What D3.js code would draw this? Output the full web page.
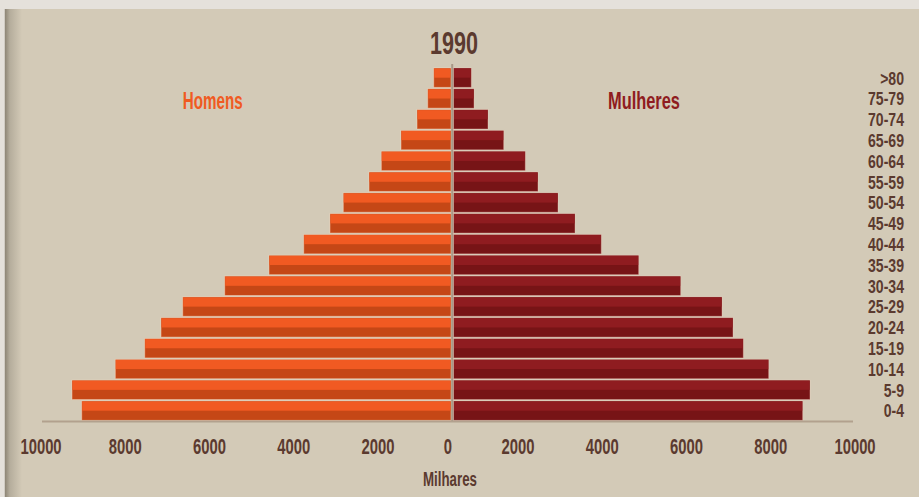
<!DOCTYPE html>
<html>
<head>
<meta charset="utf-8">
<script src="https://cdn.jsdelivr.net/npm/d3@7"></script>
<style>
  html, body { margin: 0; padding: 0; background: #d3cab7; }
  svg { display: block; }
  text { font-family: "Liberation Sans Narrow", "Liberation Sans", Arial, sans-serif; fill: #5b3a2f; font-weight: bold; }
</style>
</head>
<body>
<div id="chart"></div>
<script>
// faixas etarias, de cima para baixo
var ages = ['>80', '75-79', '70-74', '65-69', '60-64', '55-59', '50-54', '45-49', '40-44',
  '35-39', '30-34', '25-29', '20-24', '15-19', '10-14', '5-9', '0-4'];
// milhares
var homens = [415, 559, 815, 1199, 1671, 1966, 2583, 2902, 3532, 4365, 5427, 6434, 6954, 7345, 8050, 9089, 8856];
var mulheres = [427, 492, 827, 1204, 1722, 2026, 2506, 2914, 3544, 4441, 5448, 6439, 6703, 6950, 7559, 8549, 8374];
var tickValues = [-10000, -8000, -6000, -4000, -2000, 0, 2000, 4000, 6000, 8000, 10000];
var title = '1990';

var width = 919, height = 497;

var svg = d3.select('#chart').append('svg')
  .attr('width', width)
  .attr('height', height);

// fundo, faixa clara no topo e sombra na esquerda
var defs = svg.append('defs');
var shadow = defs.append('linearGradient').attr('id', 'shadow');
shadow.append('stop').attr('offset', '0%').attr('stop-color', '#e4e0da');
shadow.append('stop').attr('offset', '20%').attr('stop-color', '#e4e0da');
shadow.append('stop').attr('offset', '22%').attr('stop-color', '#8c8474');
shadow.append('stop').attr('offset', '45%').attr('stop-color', '#b5ad9c');
shadow.append('stop').attr('offset', '100%').attr('stop-color', '#d3cab7');

svg.append('rect').attr('width', width).attr('height', height).attr('fill', '#d3cab7');
svg.append('rect').attr('width', 22).attr('height', height).attr('fill', 'url(#shadow)');
svg.append('rect').attr('width', width).attr('height', 9).attr('fill', '#e5e1db');

// escalas
var xL = d3.scaleLinear().domain([0, 10000]).range([451, 34]);
var xR = d3.scaleLinear().domain([0, 10000]).range([453.5, 870.5]);
var y = d3.scaleBand().domain(ages).range([67.3, 421.1]).paddingInner(0.07).paddingOuter(0.035);
// posicao dos rotulos do eixo (espacamento do original)
var xTick = d3.scaleLinear().domain([-10000, -2000, 0, 2000, 10000]).range([41, 378, 448, 518, 855]);

var bw = y.bandwidth();

// texto condensado: ajusta largura pela medida real
function condensed(sel, size, refWidth, refText) {
  var probe = svg.append('text').style('font-size', size + 'px').text(refText);
  var s = refWidth / probe.node().getComputedTextLength();
  probe.remove();
  sel.style('font-size', size + 'px')
    .attr('transform', function() {
      var t = d3.select(this);
      return 'translate(' + t.attr('data-x') + ',' + t.attr('data-y') + ') scale(' + s + ',1)';
    });
  return sel;
}

var bars = svg.append('g');

// homens
var gh = bars.selectAll('g.h').data(homens).enter().append('g').attr('class', 'h');
gh.append('rect')
  .attr('x', d => xL(d))
  .attr('y', (d, i) => y(ages[i]))
  .attr('width', d => xL(0) - xL(d))
  .attr('height', bw)
  .attr('fill', '#c54716')
  .attr('stroke', 'rgba(255,225,200,0.45)')
  .attr('stroke-width', 1);
gh.append('rect')
  .attr('x', d => xL(d) + 0.5)
  .attr('y', (d, i) => y(ages[i]) + 0.5)
  .attr('width', d => xL(0) - xL(d) - 1)
  .attr('height', bw / 2 - 0.5)
  .attr('fill', '#f15a22');

// mulheres
var gm = bars.selectAll('g.m').data(mulheres).enter().append('g').attr('class', 'm');
gm.append('rect')
  .attr('x', xR(0))
  .attr('y', (d, i) => y(ages[i]))
  .attr('width', d => xR(d) - xR(0))
  .attr('height', bw)
  .attr('fill', '#771416')
  .attr('stroke', 'rgba(255,215,200,0.35)')
  .attr('stroke-width', 1);
gm.append('rect')
  .attr('x', xR(0) + 0.5)
  .attr('y', (d, i) => y(ages[i]) + 0.5)
  .attr('width', d => xR(d) - xR(0) - 1)
  .attr('height', bw / 2 - 0.5)
  .attr('fill', '#8f1c20');

// linha central e linha base
svg.append('line')
  .attr('x1', 452.2).attr('x2', 452.2)
  .attr('y1', 64).attr('y2', 421)
  .attr('stroke', '#a99886').attr('stroke-width', 2);
svg.append('line')
  .attr('x1', 42).attr('x2', 853)
  .attr('y1', 421.5).attr('y2', 421.5)
  .attr('stroke', '#b2a18e').attr('stroke-width', 2);

// rotulos do eixo x
var ticks = svg.append('g').selectAll('text').data(tickValues).enter().append('text')
  .attr('data-x', d => xTick(d))
  .attr('data-y', 453.5)
  .attr('text-anchor', 'middle')
  .text(d => Math.abs(d));
condensed(ticks, 22, 33, '8000');

// faixas etarias a direita
var ageLabels = svg.append('g').selectAll('text').data(ages).enter().append('text')
  .attr('data-x', 904)
  .attr('data-y', d => y(d) + bw / 2 + 6.8)
  .attr('text-anchor', 'end')
  .text(d => d);
condensed(ageLabels, 19, 36, '75-79');

// titulo
var t = svg.append('text')
  .attr('data-x', 454).attr('data-y', 54)
  .attr('text-anchor', 'middle')
  .text(title);
condensed(t, 31, 48, title);

// legendas
var lh = svg.append('text')
  .attr('data-x', 212.7).attr('data-y', 108.5)
  .attr('text-anchor', 'middle')
  .style('fill', '#f05a22')
  .text('Homens');
condensed(lh, 24, 60, 'Homens');

var mil = svg.append('text')
  .attr('data-x', 450).attr('data-y', 485.5)
  .attr('text-anchor', 'middle')
  .text('Milhares');
condensed(mil, 21, 54, 'Milhares');

var lm = svg.append('text')
  .attr('data-x', 644).attr('data-y', 108.5)
  .attr('text-anchor', 'middle')
  .style('fill', '#8f1c20')
  .text('Mulheres');
condensed(lm, 24, 72, 'Mulheres');
</script>
</body>
</html>
